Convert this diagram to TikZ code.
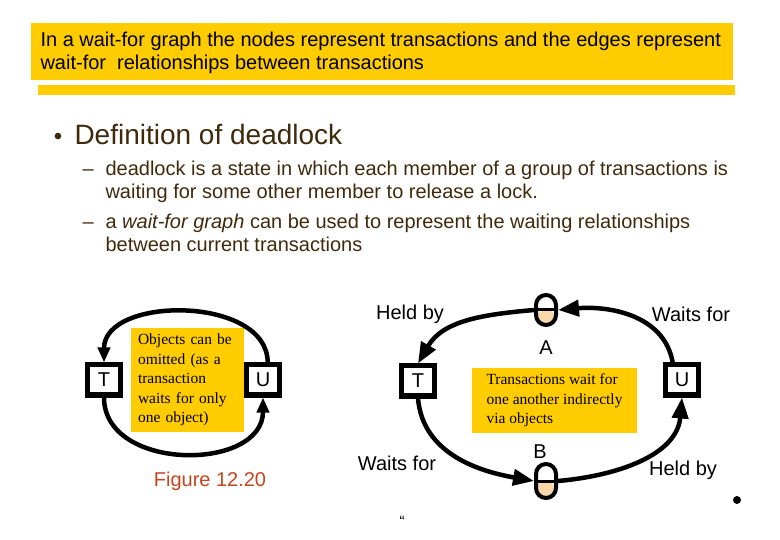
\documentclass[tikz,border=0pt]{standalone}
\usepackage{fontspec}
\setmainfont{Liberation Sans}
\newfontfamily\notefont{Liberation Serif}
\usepackage{tikz}
\usepackage{xcolor}
\usetikzlibrary{arrows.meta, positioning, shapes.geometric}
\definecolor{slideyellow}{HTML}{FFCC00}
\definecolor{objfill}{HTML}{F8D8A8}
\definecolor{bodybrown}{HTML}{3F2A0C}
\definecolor{figred}{HTML}{C4451C}
\tikzstyle{transbox} = [rectangle, 
draw=black, 
line width=5pt, 
fill=white, 
minimum width=33pt, 
minimum height=30pt, 
inner sep=0pt, 
font=\fontsize{20}{22}\selectfont]
\tikzstyle{objbox} = [rectangle, 
rounded corners=10pt, 
draw=black, 
line width=4pt, 
fill=white, 
minimum width=20pt, 
minimum height=30pt, 
inner sep=0pt, 
path picture={
\fill[objfill] (path picture bounding box.west) rectangle (path picture bounding box.south east);
\draw[line width=3pt] (path picture bounding box.west) -- (path picture bounding box.east);}]
\tikzstyle{notebox} = [rectangle, 
fill=slideyellow, 
align=left, 
inner xsep=7pt, 
font=\notefont\fontsize{15.5}{19.5}\selectfont]
\tikzstyle{edgetext} = [font=\fontsize{20}{22}\selectfont]
\tikzstyle{bodytext} = [align=left, text=bodybrown, font=\fontsize{20}{23}\selectfont]
\tikzstyle{bigarrow} = [line width=4.5pt, -{Triangle[length=21pt, width=16pt]}]
\tikzstyle{arcarrow} = [line width=4.5pt, -{Triangle[length=15pt, width=12pt]}]

\begin{document}
\begin{tikzpicture}[x=1pt, y=-1pt, node distance=10pt, auto]
        \useasboundingbox (0,0) rectangle (780,540);

        % --- Cabecera ---
        \node (header) [fill=slideyellow, minimum width=702pt, minimum height=57pt, anchor=north west, inner sep=0pt] at (31,23) {};
        \node (headtext) [anchor=west, align=left, font=\fontsize{20}{23}\selectfont] at (37,53) {In a wait-for graph the nodes represent transactions and the edges represent\\wait-for\ \ relationships between transactions};
        \node (headbar) [fill=slideyellow, minimum width=697pt, minimum height=10pt, anchor=north west, inner sep=0pt] at (38,85) {};

        % --- Texto ---
        \node (bullet) [text=bodybrown, font=\fontsize{24}{26}\selectfont, inner sep=0pt] at (58,139) {\textbullet};
        \node (defn) [anchor=base west, text=bodybrown, font=\fontsize{28}{32}\selectfont] at (71,145) {Definition of deadlock};
        \node (dashone) [anchor=base west, bodytext] at (79,176) {--};
        \node (itemone) [anchor=north west, bodytext] at (102,157) {deadlock is a state in which each member of a group of transactions is\\waiting for some other member to release a lock.};
        \node (dashtwo) [anchor=base west, bodytext] at (79,229) {--};
        \node (itemtwo) [anchor=north west, bodytext] at (102,210) {a \textit{wait-for graph} can be used to represent the waiting relationships\\between current transactions};

        % --- Figura 12.20 ---
        \node (noteleft) [notebox, minimum width=113pt, minimum height=104pt, text width=99pt] at (187.5,380) {Objects can be\\omitted (as a\\transaction\\waits for only\\one object)};
        \node (tleft) [transbox] at (104,380) {T};
        \node (uleft) [transbox] at (263,380) {U};
        \node (figlabel) [edgetext, text=figred] at (210,481) {Figure 12.20};

        \draw [arcarrow] (uleft.75) to[out=90, in=90, looseness=1.05] (tleft.north);
        \draw [arcarrow] (tleft.south) to[out=-90, in=-90, looseness=1.2] (uleft.south);

        % --- Grafo con objetos ---
        \node (noteright) [notebox, minimum width=165pt, minimum height=65pt, inner xsep=9pt] at (554.5,400.5) {Transactions wait for\\one another indirectly\\via objects};
        \node (tright) [transbox] at (418,381) {T};
        \node (uright) [transbox] at (682,380) {U};
        \node (obja) [objbox] at (546,310) {};
        \node (objb) [objbox, minimum height=34pt] at (546,481) {};
        \node (labela) [edgetext, below=of obja] {A};
        \node (labelb) [edgetext, above=0pt of objb, xshift=-6pt] {B};

        \node (heldone) [edgetext] at (410,314) {Held by};
        \node (waitone) [edgetext] at (691,314) {Waits for};
        \node (waittwo) [edgetext] at (397,463) {Waits for};
        \node (heldtwo) [edgetext] at (683,470) {Held by};

        \draw [bigarrow] (obja.west) to[out=185, in=60] (tright.north);
        \draw [bigarrow] (uright.118) to[out=100, in=5] (obja.east);
        \draw [bigarrow] (tright.south) to[out=-85, in=170] (objb.west);
        \draw [bigarrow] (objb.east) to[out=5, in=-95] (uright.south);

        % Marcas sueltas
        \node (dot) [circle, fill=black, inner sep=0pt, minimum size=8pt] at (737,500) {};
        \node (quote) [font=\fontsize{15}{16}\selectfont] at (402,521) {“};

\end{tikzpicture}
\end{document}
